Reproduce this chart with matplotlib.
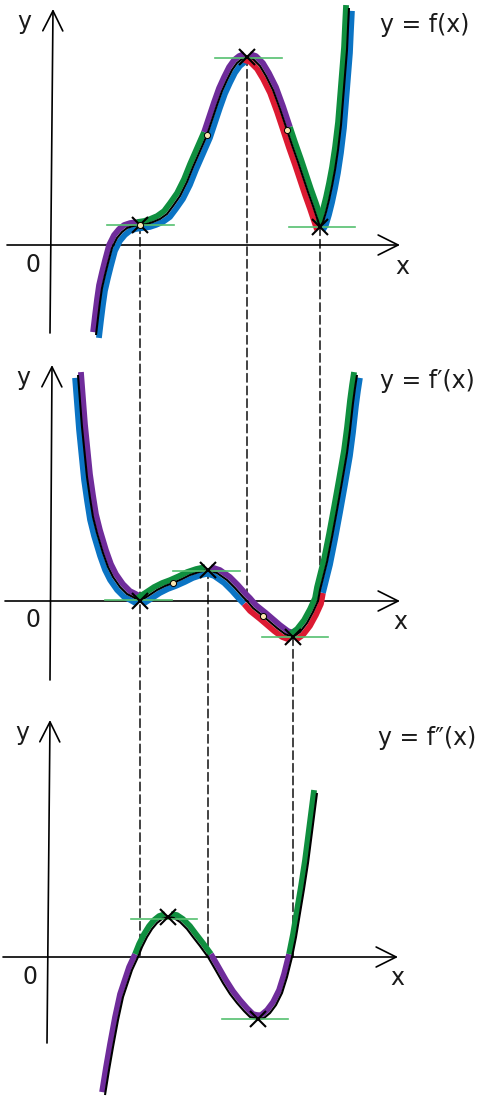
import matplotlib.pyplot as plt
import numpy as np
from matplotlib.patches import ConnectionPatch
from matplotlib.transforms import offset_copy

# curve values (1 unit ~ 10 px, origin at the axis crossing)
f_x = [4.6, 4.8, 5.0, 5.2, 5.5, 5.8, 6.2, 6.7, 7.2, 7.7, 8.3, 9.0, 9.7, 10.3, 11.0, 11.7,
       12.3, 13.0, 13.7, 14.3, 15.0, 15.7, 16.2, 16.7, 17.2, 17.7, 18.2, 18.7, 19.2, 19.7,
       20.3, 21.0, 21.6, 22.3, 23.0, 23.7, 24.2, 24.8, 25.3, 25.8, 26.3, 26.7, 27.0, 27.3,
       27.6, 27.9, 28.2, 28.5, 28.8, 29.1, 29.3, 29.5, 29.7, 29.8, 29.9]
f_y = [-9.0, -7.3, -5.7, -4.3, -3.0, -1.8, -0.3, 0.7, 1.3, 1.7, 1.9, 2.0, 2.1, 2.3, 2.6, 3.1,
       3.9, 4.9, 6.3, 7.8, 9.4, 11.0, 12.5, 14.0, 15.4, 16.5, 17.5, 18.2, 18.6, 18.8,
       18.6, 17.9, 16.9, 15.5, 13.6, 11.5, 10.0, 8.3, 6.8, 5.3, 3.9, 2.7, 1.8, 2.3,
       3.3, 4.5, 5.9, 7.5, 9.5, 12.0, 14.5, 17.0, 19.5, 21.7, 23.7]

d1_x = [2.8, 3.0, 3.2, 3.4, 3.7, 4.0, 4.3, 4.7, 5.3, 5.8, 6.3, 7.0, 7.7, 8.3, 9.0, 9.8,
        10.7, 11.5, 12.3, 13.2, 14.0, 14.9, 15.8, 16.7, 17.7, 18.5, 19.3, 19.7, 20.3, 20.8,
        21.3, 22.0, 22.7, 23.5, 24.3, 25.0, 25.7, 26.3, 26.8, 27.0, 27.3, 27.7, 28.2, 28.7,
        29.2, 29.7, 30.0, 30.3, 30.5, 30.7]
d1_y = [22.6, 20.0, 17.4, 15.4, 12.4, 10.3, 8.4, 6.8, 4.8, 3.4, 2.4, 1.4, 0.7, 0.4, 0.0, 0.5,
        1.1, 1.5, 1.8, 2.2, 2.6, 2.9, 3.1, 2.8, 2.1, 1.3, 0.4, 0.0, -0.7, -1.1,
        -1.5, -2.1, -2.7, -3.3, -3.6, -3.1, -2.2, -1.1, 0.0, 1.1, 2.3, 3.9, 6.4, 9.1,
        11.9, 14.8, 17.1, 19.8, 21.3, 22.6]

d2_x = [5.5, 5.9, 6.3, 6.8, 7.3, 7.8, 8.2, 8.8, 9.2, 9.7, 10.2, 10.7, 11.2, 11.8, 12.4,
        13.0, 13.7, 14.3, 15.0, 15.8, 16.5, 17.3, 18.0, 18.7, 19.4, 20.0, 20.8, 21.4, 22.0,
        22.6, 23.2, 23.7, 24.2, 24.6, 25.0, 25.4, 25.8, 26.2, 26.7]
d2_y = [-13.8, -11.3, -9.0, -6.3, -4.0, -2.5, -1.3, 0.0, 1.0, 2.0, 2.8, 3.4, 3.8, 4.0, 3.9,
        3.5, 2.8, 2.0, 1.1, 0.0, -1.2, -2.6, -3.7, -4.6, -5.4, -6.0, -6.2, -6.1, -5.6,
        -4.8, -3.6, -2.0, 0.0, 2.0, 4.4, 6.8, 9.4, 12.5, 16.4]

# colour breaks (x where a band changes colour)
f_upper_breaks = [9.0, 15.7, 23.7]
f_lower_breaks = [19.7, 27.0]
d1_upper_breaks = [9.0, 15.8, 24.3]
d1_lower_breaks = [19.7, 27.0]
d2_breaks = [8.8, 15.8, 24.2]

# stationary points (crosses) and inflection points (dots)
f_cross_x, f_cross_y = [9.0, 19.7, 27.0], [2.0, 18.8, 1.8]
f_dot_x, f_dot_y = [9.0, 15.7, 23.7], [2.0, 11.0, 11.5]
d1_cross_x, d1_cross_y = [9.0, 15.8, 24.3], [0.0, 3.1, -3.6]
d1_dot_x, d1_dot_y = [12.3, 21.3], [1.8, -1.5]
d2_cross_x, d2_cross_y = [11.8, 20.8], [4.0, -6.2]

# horizontal tangents: y, x start, x end
f_tan = [(2.0, 5.7, 12.4), (18.7, 16.5, 23.2), (1.8, 23.9, 30.5)]
d1_tan = [(0.1, 5.5, 12.2), (3.0, 12.3, 19.0), (-3.6, 21.2, 27.8)]
d2_tan = [(3.8, 8.1, 14.7), (-6.2, 17.2, 23.8)]

BLUE = '#0b74c4'
RED = '#dc1a32'
GREEN = '#0f8f3f'
PURPLE = '#6f2c9b'
TAN = '#55c070'
INK = '#1a1a1a'


def band(ax, xs, ys, a, b, color, side, d=2.1, lw=4.2):
    xs = np.asarray(xs)
    ys = np.asarray(ys)
    m = (xs >= a - 1e-6) & (xs <= b + 1e-6)
    px, py = xs[m], ys[m]
    if len(px) < 2:
        return
    s = np.sign(np.diff(py))
    s[s == 0] = 1
    j = 0
    for k in range(1, len(s) + 1):
        if k == len(s) or s[k] != s[j]:
            up = s[j] > 0
            if side == 'upper':
                dx, dy = (-d, d) if up else (d, d)
            else:
                dx, dy = (d, -d) if up else (-d, -d)
            tr = offset_copy(ax.transData, fig=ax.figure, x=dx, y=dy, units='points')
            ax.plot(px[j:k + 1], py[j:k + 1], color=color, lw=lw, transform=tr,
                    solid_capstyle='butt', solid_joinstyle='round', zorder=2)
            j = k


def colored(ax, xs, ys, breaks, colors, side):
    edges = [xs[0]] + list(breaks) + [xs[-1]]
    for i, c in enumerate(colors):
        band(ax, xs, ys, edges[i], edges[i + 1], c, side)


def axes_frame(ax, ybot, ytop, xbot, xtop, xleft, xright, label, pos):
    aprops = dict(arrowstyle='->,head_length=0.72,head_width=0.36', lw=1.2,
                  color='black', mutation_scale=20, shrinkA=0, shrinkB=0)
    ax.annotate('', xy=(xright, 0), xytext=(xleft, 0), arrowprops=aprops, zorder=1)
    ax.annotate('', xy=(xtop, ytop), xytext=(xbot, ybot), arrowprops=aprops, zorder=1)
    kw = dict(fontsize=17, color=INK, ha='center', va='center')
    ax.text(pos['y'][0], pos['y'][1], 'y', **kw)
    ax.text(pos['x'][0], pos['x'][1], 'x', **kw)
    ax.text(pos['o'][0], pos['o'][1], '0', **kw)
    ax.text(pos['lab'][0], pos['lab'][1], label, fontsize=17, color=INK,
            ha='left', va='center')


def marks(ax, cx, cy, dx=None, dy=None, tans=()):
    for y, a, b in tans:
        ax.plot([a, b], [y, y], color=TAN, lw=1.2, zorder=4)
    ax.plot(cx, cy, ls='none', marker='x', ms=11, mew=1.5, color='black', zorder=5)
    if dx is not None:
        ax.plot(dx, dy, ls='none', marker='o', ms=4.4, mfc='#fbe6b0', mec='black',
                mew=0.7, zorder=6)


def main():
    fig = plt.figure(figsize=(4.83, 11.0), dpi=100)

    ax1 = fig.add_axes([0, 760 / 1100, 1, 340 / 1100])
    ax2 = fig.add_axes([0, 420 / 1100, 1, 340 / 1100])
    ax3 = fig.add_axes([0, 0, 1, 420 / 1100])
    ax1.set_ylim(-9.5, 24.5)
    ax2.set_ylim(-7.9, 26.1)
    ax3.set_ylim(-14.3, 27.7)
    for ax in (ax1, ax2, ax3):
        ax.set_xlim(-5.0, 43.3)
        ax.set_axis_off()
        ax.patch.set_visible(False)

    # axes with open arrow heads
    axes_frame(ax1, -8.8, 23.6, 0.0, 0.3, -4.3, 35.0, 'y = f(x)',
               {'y': (-2.6, 22.3), 'x': (35.2, -2.2), 'o': (-1.7, -2.0), 'lab': (33.0, 22.0)})
    axes_frame(ax2, -7.9, 23.6, 0.0, 0.2, -4.5, 35.0, 'y = f\u2032(x)',
               {'y': (-2.7, 22.3), 'x': (35.0, -2.1), 'o': (-1.7, -1.9), 'lab': (33.0, 22.0)})
    axes_frame(ax3, -8.6, 23.7, -0.3, 0.0, -4.7, 34.8, 'y = f\u2033(x)',
               {'y': (-2.8, 22.4), 'x': (34.7, -2.1), 'o': (-2.0, -2.0), 'lab': (32.8, 21.9)})

    # f(x)
    colored(ax1, f_x, f_y, f_lower_breaks, [BLUE, RED, BLUE], 'lower')
    colored(ax1, f_x, f_y, f_upper_breaks, [PURPLE, GREEN, PURPLE, GREEN], 'upper')
    ax1.plot(f_x, f_y, color='black', lw=1.5, zorder=3, solid_capstyle='butt')
    marks(ax1, f_cross_x, f_cross_y, f_dot_x, f_dot_y, f_tan)

    # f'(x)
    colored(ax2, d1_x, d1_y, d1_lower_breaks, [BLUE, RED, BLUE], 'lower')
    colored(ax2, d1_x, d1_y, d1_upper_breaks, [PURPLE, GREEN, PURPLE, GREEN], 'upper')
    ax2.plot(d1_x, d1_y, color='black', lw=1.5, zorder=3, solid_capstyle='butt')
    marks(ax2, d1_cross_x, d1_cross_y, d1_dot_x, d1_dot_y, d1_tan)

    # f''(x)
    colored(ax3, d2_x, d2_y, d2_breaks, [PURPLE, GREEN, PURPLE, GREEN], 'upper')
    ax3.plot(d2_x, d2_y, color='black', lw=1.5, zorder=3, solid_capstyle='butt')
    marks(ax3, d2_cross_x, d2_cross_y, tans=d2_tan)

    # dashed guides joining the graphs
    guides = [(9.0, ax1, 2.0, ax3, 0.0),
              (19.7, ax1, 18.8, ax2, 0.0),
              (27.0, ax1, 1.8, ax2, 0.7),
              (15.8, ax2, 3.1, ax3, 0.0),
              (24.3, ax2, -3.6, ax3, 0.0)]
    for x, axa, ya, axb, yb in guides:
        cp = ConnectionPatch(xyA=(x, ya), coordsA='data', axesA=axa,
                             xyB=(x, yb), coordsB='data', axesB=axb,
                             color='#222222', lw=1.2, ls=(0, (5, 2.6)), zorder=-1)
        fig.add_artist(cp)

    fig.savefig('out.png', dpi=100)


if __name__ == "__main__":
    main()
